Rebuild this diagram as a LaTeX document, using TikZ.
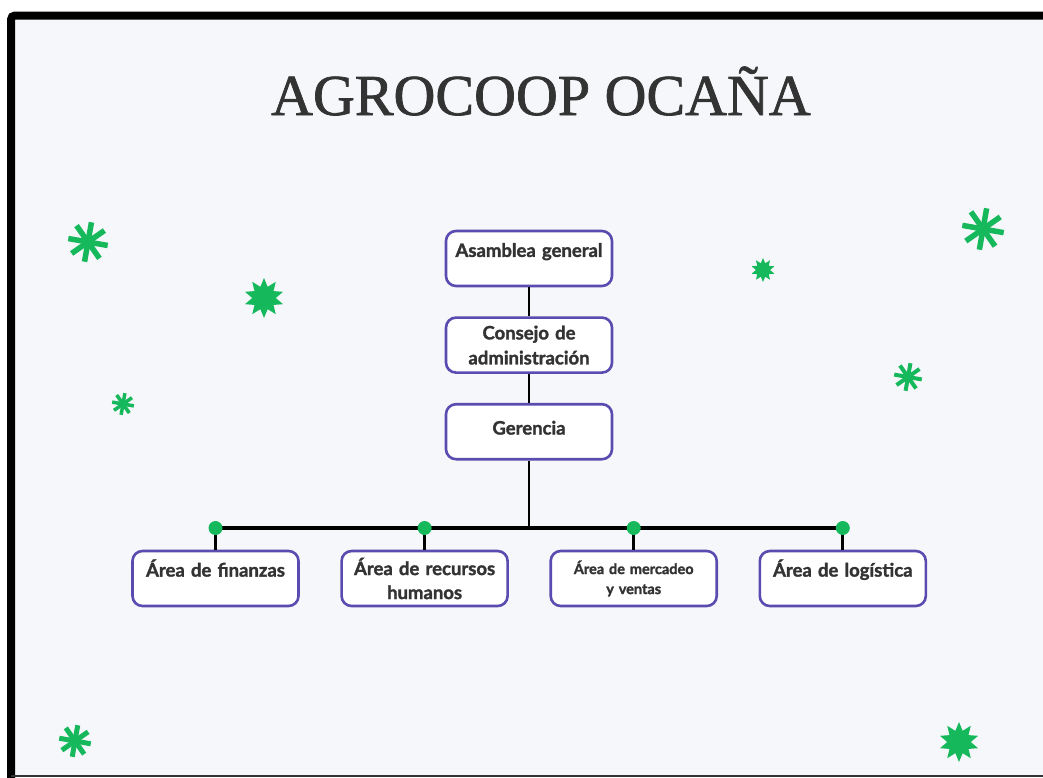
\documentclass[tikz,border=0pt]{standalone}
\usepackage{fontspec}
\setmainfont{Liberation Serif}
\newfontfamily\titlefont{Liberation Serif}[FakeBold=1.2]
\newfontfamily\boxfont{Lato}[BoldFeatures={FakeBold=1.6}]
\usetikzlibrary{positioning,shapes.geometric}

\definecolor{paper}{HTML}{F5F7FA}
\definecolor{boxline}{HTML}{5A4BB0}
\definecolor{leaf}{HTML}{16B85C}
\definecolor{ink}{HTML}{333333}

\tikzset{
  area/.style={draw=boxline, line width=2.6pt, rounded corners=10pt, fill=white,
    minimum width=166pt, minimum height=55pt, inner sep=2pt, text width=162pt,
    align=center, text=ink, font=\boxfont\bfseries\fontsize{18.5}{25}\selectfont},
  small/.style={font=\boxfont\bfseries\fontsize{14.5}{20}\selectfont},
  link/.style={draw=black, line width=2.8pt},
  dot/.style={circle, fill=leaf, inner sep=0pt, minimum size=14pt},
  burst/.style={star, star points=10, star point ratio=1.7, fill=leaf, inner sep=0pt}
}

\begin{document}
\begin{tikzpicture}[x=1pt, y=-1pt]

    % Page and frame
    \useasboundingbox (0,0) rectangle (1043,777);
    \fill[white] (0,0) rectangle (1043,777);
    \fill[paper] (12,16) rectangle (1043,777);
    \draw[line width=8pt, rounded corners=4pt] (11,790) -- (11,15.5) -- (1060,15.5);
    \draw[line width=1.5pt, black!80] (11,776) -- (1043,776);

    % Title
    \node[anchor=base, text=ink, font=\titlefont\fontsize{58}{60}\selectfont] (title) at (541,115) {AGROCOOP OCAÑA};

    % Add the boxes
    \node[area] (asam) at (529,258.5) {Asamblea general\\[-8pt] \mbox{}};
    \node[area, below=29pt of asam] (cons) {Consejo de\\ administración};
    \node[area, below=29pt of cons] (ger) {Gerencia\\[-17pt] \mbox{}};

    \node[area] (fin) at (215.5,578.5) {Área de finanzas\\[-4pt] \mbox{}};
    \node[area, right=40.5pt of fin, font=\boxfont\bfseries\fontsize{18.5}{24}\selectfont] (rrhh) {Área de recursos\\ humanos};
    \node[area, small, right=40.5pt of rrhh] (merc) {Área de mercadeo\\ y ventas};
    \node[area, right=40.5pt of merc] (logi) {Área de logística\\[-4pt] \mbox{}};

    % Connect the boxes
    \coordinate (c1) at (fin.north |- 0,528);
    \coordinate (c2) at (rrhh.north |- 0,528);
    \coordinate (c3) at (merc.north |- 0,528);
    \coordinate (c4) at (logi.north |- 0,528);
    \draw[link] (asam) -- (cons);
    \draw[link] (cons) -- (ger);
    \draw[link] (ger) -- (ger |- c1);
    \draw[link, line width=3.4pt] (c1) -- (c4);
    \foreach \n/\b in {1/fin, 2/rrhh, 3/merc, 4/logi} {
      \draw[link] (c\n) -- (\b);
      \node[dot] (p\n) at (c\n) {};
    }

    % Decorations
    \foreach \x/\y/\r/\w in {88/242/20/5.5, 123/404/11/3.5, 75/741/16/5, 983/229/21/5.5, 908/377/14/4} {
      \foreach \a in {0,45,90,135}
        \draw[leaf, line width=\w pt] (\x,\y) ++(\a+100:\r) -- ++(\a+280:2*\r);
    }
    \node[burst, minimum size=40pt] (b1) at (264,298) {};
    \node[burst, minimum size=24pt] (b2) at (763,270) {};
    \node[burst, minimum size=40pt] (b3) at (959,742) {};

\end{tikzpicture}
\end{document}
